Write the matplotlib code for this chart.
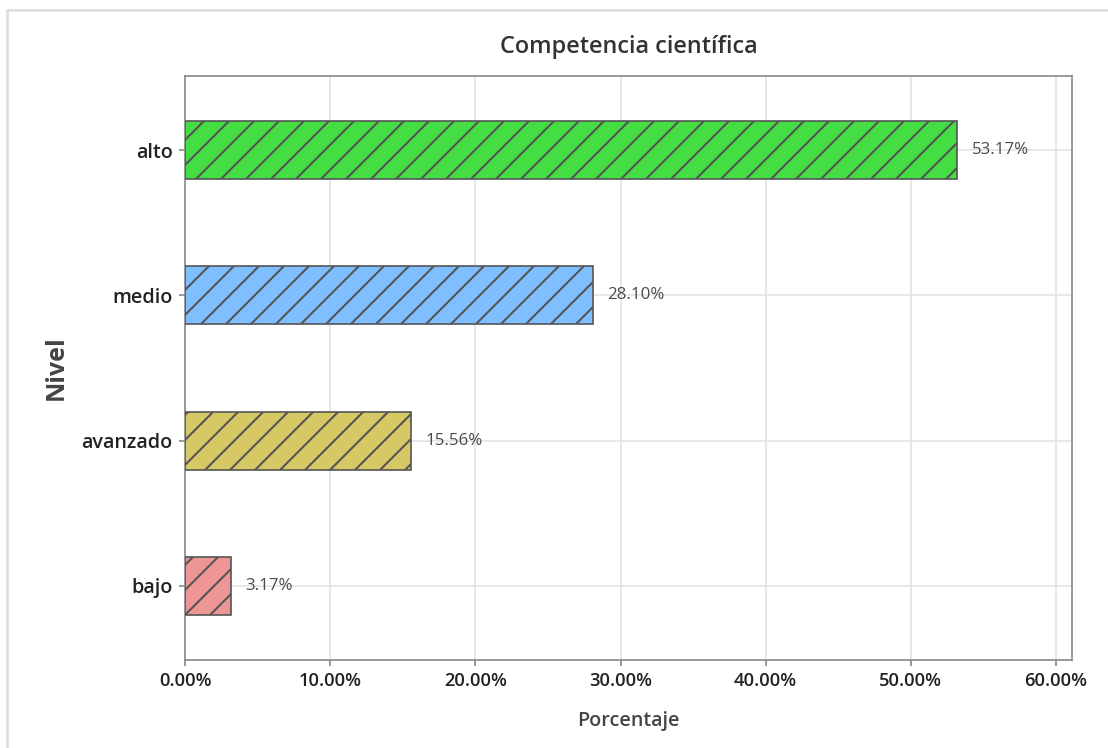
import matplotlib
matplotlib.use("Agg")
import matplotlib.pyplot as plt
from matplotlib.lines import Line2D
from matplotlib.ticker import FuncFormatter

# Datos
niveles = ["bajo", "avanzado", "medio", "alto"]
porcentajes = [3.17, 15.56, 28.10, 53.17]
colores = ["#EE9696", "#D6C864", "#80BFFF", "#44DD44"]
xticks = [0, 10, 20, 30, 40, 50, 60]

plt.rcParams['font.family'] = ['Open Sans', 'DejaVu Sans']
plt.rcParams['hatch.color'] = '#555555'
plt.rcParams['hatch.linewidth'] = 1.0

fig = plt.figure(figsize=(1108/150, 748/150), dpi=150)
ax = fig.add_axes([185/1108, 1-660/748, (1072-185)/1108, (660-76)/748])

# marco gris claro de la captura
fig.add_artist(Line2D([7/1108, 7/1108], [0, 1-10/748], transform=fig.transFigure,
                      color='#DDDDDD', lw=1.2))
fig.add_artist(Line2D([7/1108, 1], [1-10/748, 1-10/748], transform=fig.transFigure,
                      color='#DDDDDD', lw=1.2))

ypos = range(len(niveles))
bars = ax.barh(ypos, porcentajes, height=0.4, color=colores, edgecolor='#555555',
               linewidth=0.8, hatch='//', zorder=3)

for b, v in zip(bars, porcentajes):
    ax.annotate(f"{v:.2f}%", (b.get_width(), b.get_y() + b.get_height()/2),
                xytext=(7, 0), textcoords='offset points', va='center', ha='left',
                fontsize=8.1, color='#4A4A4A')

ax.set_xlim(0, 61.1)
ax.set_ylim(-0.51, 3.51)
ax.set_xticks(xticks)
ax.xaxis.set_major_formatter(FuncFormatter(lambda v, p: f"{v:.2f}%"))
ax.set_yticks(list(ypos))
ax.set_yticklabels(niveles)

ax.grid(True, color='#E3E3E3', lw=0.8, zorder=0)
ax.set_axisbelow(True)
for s in ax.spines.values():
    s.set_color('#888888')
    s.set_linewidth(0.8)
ax.tick_params(axis='both', colors='#888888', length=3, width=0.8,
               labelcolor='#222222', labelsize=8.8, pad=3)
ax.tick_params(axis='y', labelsize=9.5)
for lbl in ax.get_xticklabels() + ax.get_yticklabels():
    lbl.set_fontweight('semibold')

ax.set_title("Competencia científica", fontsize=11.3, color='#333333',
             fontweight='semibold', pad=11)
ax.set_xlabel("Porcentaje", fontsize=9.5, color='#444444', fontweight='semibold', labelpad=10)
ax.set_ylabel("Nivel", fontsize=12, color='#444444', fontweight='bold', labelpad=6)

fig.savefig("out.png", dpi=150)
